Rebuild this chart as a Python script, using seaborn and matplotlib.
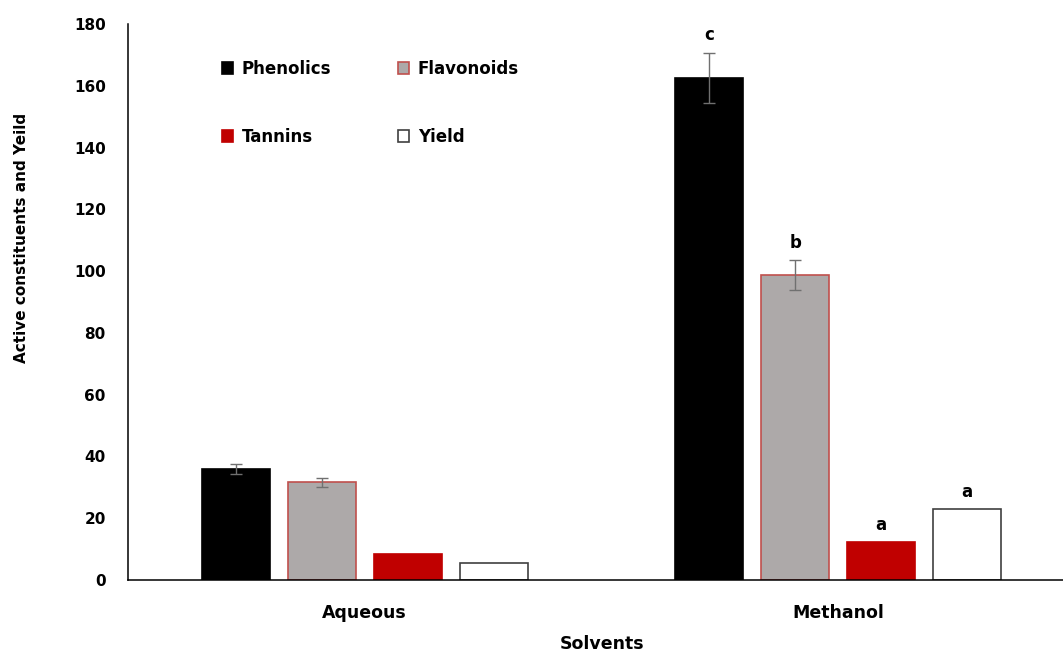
import numpy as np
import pandas as pd
import matplotlib
matplotlib.use('Agg')
import matplotlib.pyplot as plt
import seaborn as sns
from matplotlib.patches import Patch

# 数据
solvents = ['Aqueous', 'Methanol']
groups = ['Phenolics', 'Flavonoids', 'Tannins', 'Yield']
phenolics = [35.9, 162.5]
flavonoids = [31.6, 98.7]
tannins = [8.4, 12.3]
yield_vals = [5.5, 23.0]
phenolics_err = [1.6, 8.2]
flavonoids_err = [1.5, 4.8]
tannins_err = [0, 0]
yield_err = [0, 0]
letters_methanol = ['c', 'b', 'a', 'a']

face = {'Phenolics': '#000000', 'Flavonoids': '#ADA9A9', 'Tannins': '#C00000', 'Yield': '#FFFFFF'}
edge = {'Phenolics': '#000000', 'Flavonoids': '#C0504D', 'Tannins': '#C00000', 'Yield': '#404040'}

df = pd.DataFrame({
    'Solvent': solvents * 4,
    'Group': np.repeat(groups, 2),
    'Value': phenolics + flavonoids + tannins + yield_vals,
})
errs = {'Phenolics': phenolics_err, 'Flavonoids': flavonoids_err,
        'Tannins': tannins_err, 'Yield': yield_err}

sns.set_style('white')
plt.rcParams['font.family'] = ['DejaVu Sans']
plt.rcParams['font.weight'] = 'bold'
plt.rcParams['text.color'] = 'black'
plt.rcParams['xtick.color'] = 'black'
plt.rcParams['ytick.color'] = 'black'
plt.rcParams['axes.labelcolor'] = 'black'

fig = plt.figure(figsize=(10.63, 6.52), dpi=100)
ax = fig.add_axes([0.1204, 0.1104, 0.8796, 0.8528])

sns.barplot(data=df, x='Solvent', y='Value', hue='Group', order=solvents, hue_order=groups,
            palette=face, saturation=1, width=0.7265, gap=0.21, legend=False, ax=ax, linewidth=1.2)

# 边框颜色 + 误差线 + 字母
for g, cont in zip(groups, ax.containers):
    for i, bar in enumerate(cont):
        bar.set_edgecolor(edge[g])
        cx = bar.get_x() + bar.get_width() / 2
        h = bar.get_height()
        e = errs[g][i]
        if e > 0:
            ax.errorbar(cx, h, yerr=e, color='#707070', capsize=4.5, elinewidth=1, capthick=1)
        if i == 1:
            ax.annotate(letters_methanol[groups.index(g)], (cx, h + e), xytext=(0, 6),
                        textcoords='offset points', ha='center', va='bottom',
                        fontsize=12, fontweight='bold')

ax.set_ylim(0, 180)
ax.set_xlim(-0.5, 1.475)
ax.set_yticks(range(0, 181, 20))
ax.tick_params(axis='both', length=0)
ax.tick_params(axis='y', pad=16, labelsize=11)
ax.tick_params(axis='x', pad=17, labelsize=12.5)
for lab in ax.get_xticklabels() + ax.get_yticklabels():
    lab.set_fontweight('bold')

sns.despine(ax=ax)
for s in ['left', 'bottom']:
    ax.spines[s].set_color('#000000')
    ax.spines[s].set_linewidth(1.1)

ax.set_xlabel('Solvents', fontsize=12.5, fontweight='bold')
ax.set_ylabel('Active constituents and Yeild', fontsize=11, fontweight='bold')
ax.xaxis.set_label_coords(0.507, -0.098)
ax.yaxis.set_label_coords(-0.106, 0.615)

# 图例（两列）
order = ['Phenolics', 'Tannins', 'Flavonoids', 'Yield']
handles = [Patch(facecolor=face[g], edgecolor=edge[g], linewidth=1.2, label=g) for g in order]
ax.legend(handles=handles, ncol=2, frameon=False, loc='upper left',
          bbox_to_anchor=(0.084, 0.962), handlelength=0.7, handleheight=0.7,
          handletextpad=0.5, labelspacing=3.0, columnspacing=4.0, prop={'weight': 'bold', 'size': 12})

plt.savefig('out.png', dpi=100)
plt.close()
